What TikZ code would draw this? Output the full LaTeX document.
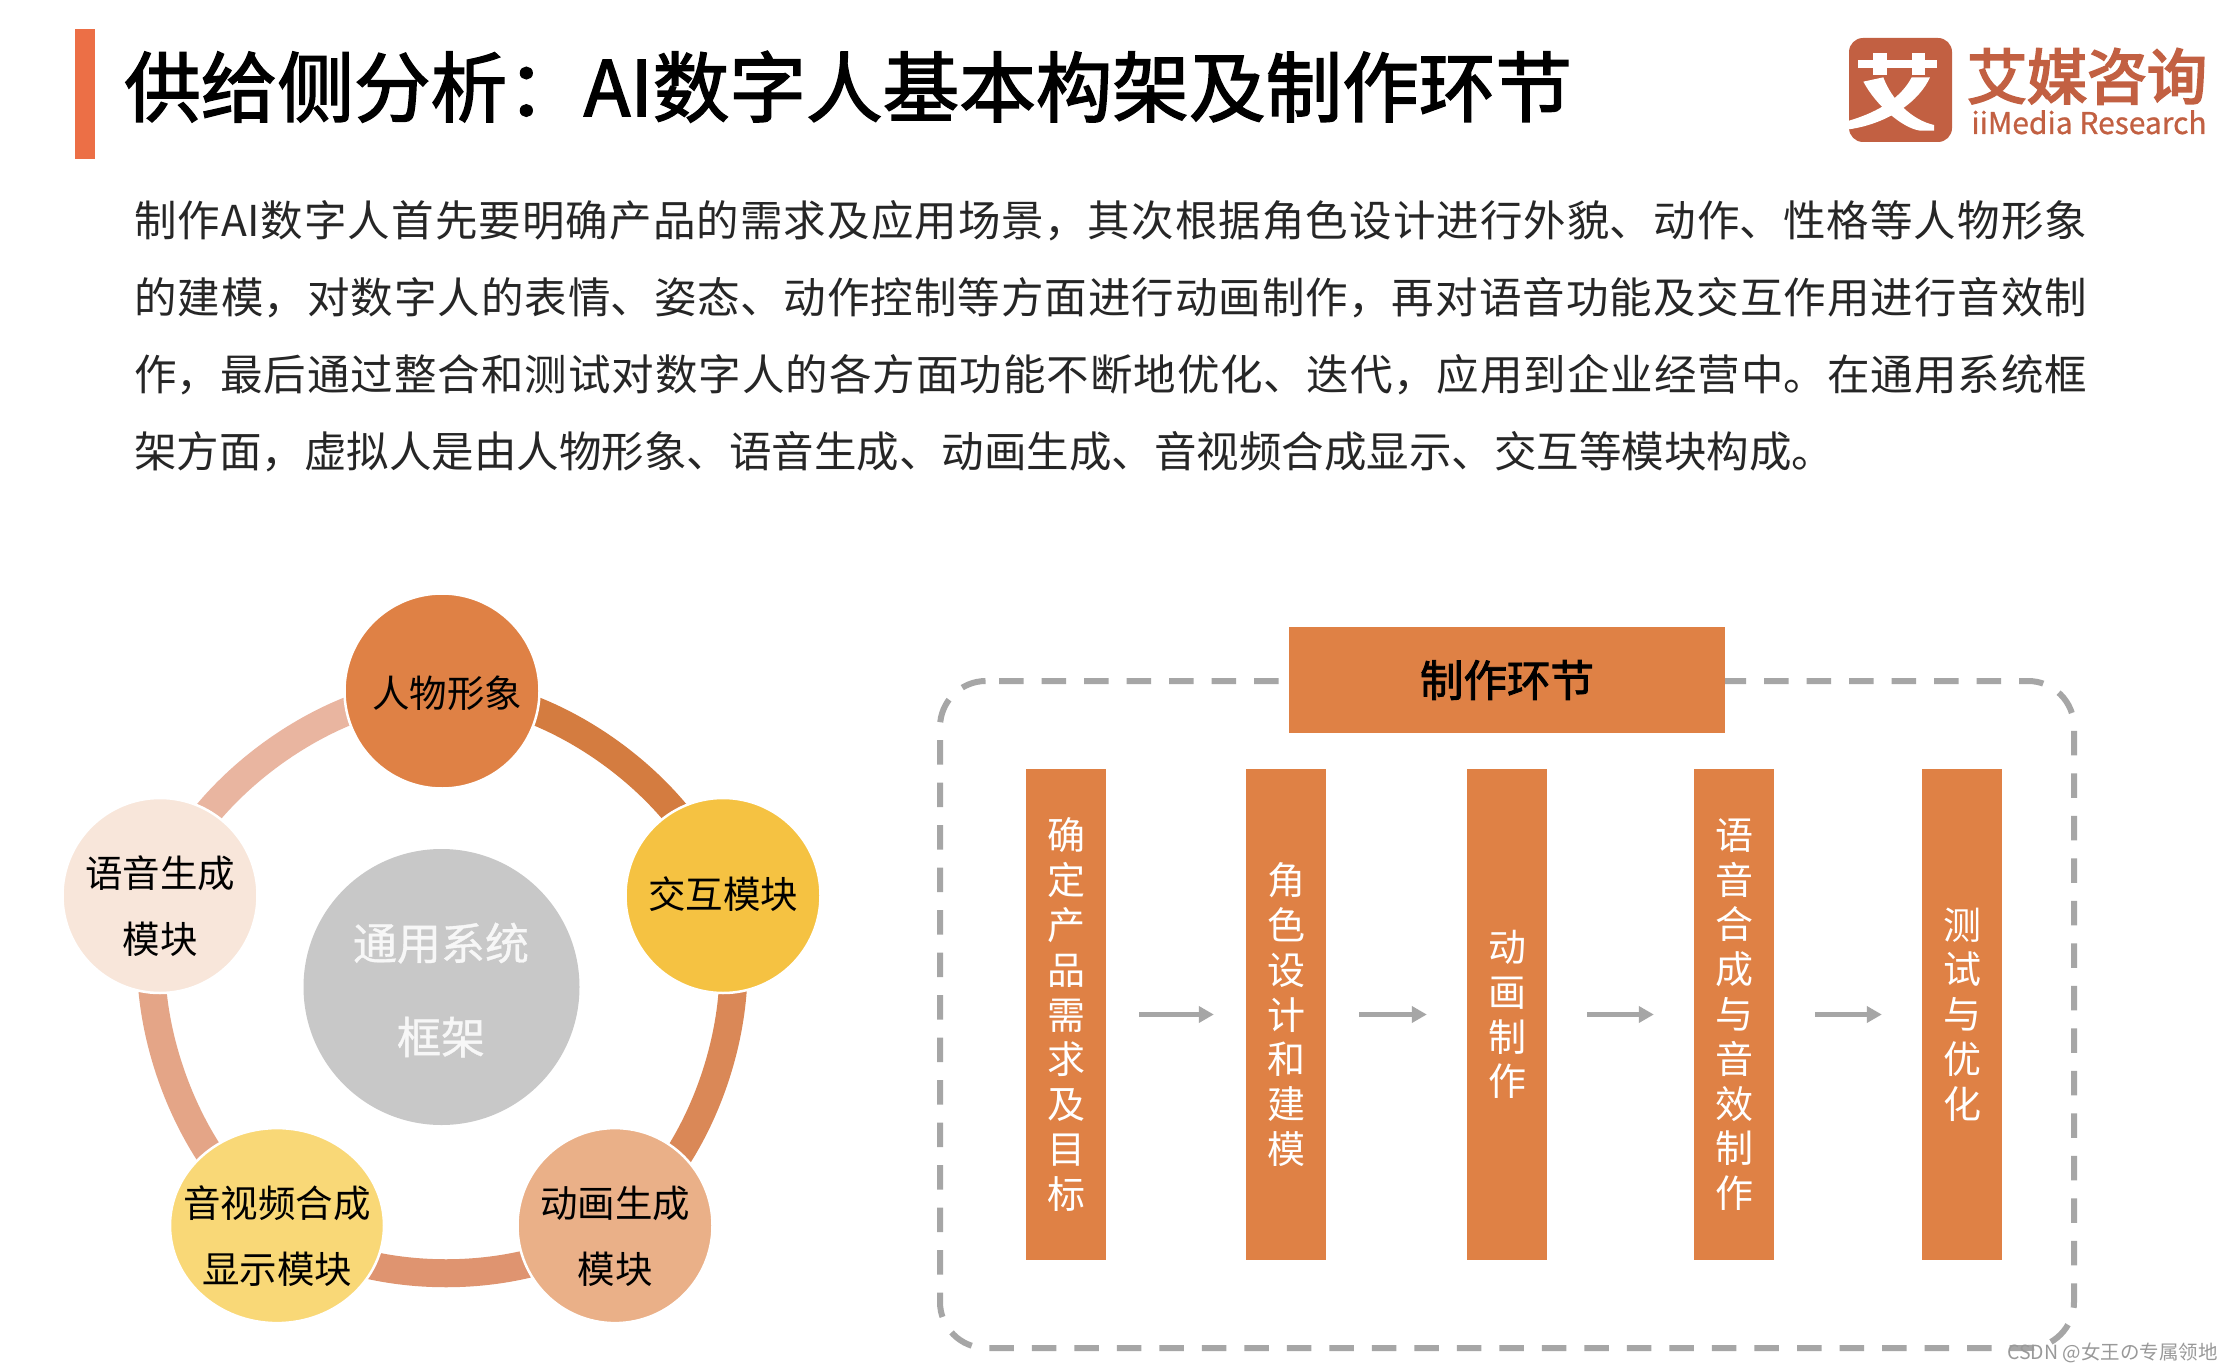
\documentclass[tikz,border=0pt]{standalone}
\usepackage{fontspec}
\setmainfont{Noto Sans CJK SC}
\newfontfamily\medf[FakeBold=2]{Noto Sans CJK SC}
\newfontfamily\heavyf[FakeBold=3.5]{Noto Sans CJK SC}
\newfontfamily\semif[FakeBold=0.8]{Noto Sans CJK SC}
\usetikzlibrary{arrows.meta,shapes.geometric,backgrounds}
\XeTeXlinebreaklocale "zh"
\XeTeXlinebreakskip=0pt plus 3pt
\definecolor{org}{HTML}{DF8145}
\definecolor{logoc}{HTML}{C26042}
\definecolor{dashc}{HTML}{A6A6A6}
\definecolor{titlebar}{HTML}{EC6F46}
\definecolor{ca}{HTML}{D47C40}
\definecolor{cb}{HTML}{DA8857}
\definecolor{cc}{HTML}{DF9470}
\definecolor{cd}{HTML}{E4A587}
\definecolor{ce}{HTML}{E9B5A0}
\newcommand{\fs}[2]{\fontsize{#1pt}{#2pt}\selectfont}
\tikzset{
  disc/.style={circle,draw=white,line width=2.5pt,inner sep=0pt,minimum size=195pt},
  lbl/.style={inner sep=0pt,align=center,text=black,font=\fs{37.5}{66}},
  ring/.style={line width=28pt,line cap=butt,bend left=36,looseness=.82},
  bar/.style={fill=org,draw=none,inner sep=0pt,minimum width=80pt,minimum height=491pt,text=white,align=center,font=\fs{38}{44.8}},
  flow/.style={-{Triangle[length=15pt,width=16pt]},draw=dashc,line width=4.5pt}
}
\begin{document}
\begin{tikzpicture}[x=1pt,y=-1pt]
\useasboundingbox (0,0) rectangle (2232,1372);
\begin{scope}[on background layer]
\fill[white] (0,0) rectangle (2232,1372);
\end{scope}
% title
\node[fill=titlebar,minimum width=20pt,minimum height=130pt,inner sep=0pt] (tbar) at (85,94) {};
\node[anchor=base west,inner sep=0pt,text=black,font=\fs{76.6}{80}\medf] (title) at (124,116) {供给侧分析：AI数字人基本构架及制作环节};
% logo
\node[fill=logoc,minimum width=103pt,minimum height=104pt,rounded corners=14pt,inner sep=0pt] (logo) at (1900.5,90) {};
\begin{scope}
\clip[rounded corners=14pt] (logo.south west) rectangle (logo.north east);
\begin{scope}[shift={(1780,0)},x=.3333pt,y=-.3333pt]
\fill[white] (235,180) rectangle (470,205);
\fill[white] (280,160) rectangle (320,225);
\fill[white] (395,160) rectangle (435,225);
\fill[white] (250,245) -- (310,232) .. controls (335,300) and (395,360) .. (462,375) -- (462,392) -- (420,392) .. controls (370,385) and (290,320) .. (250,245) -- cycle;
\fill[white] (395,232) -- (450,232) .. controls (420,300) and (330,370) .. (207,388) -- (207,362) .. controls (300,335) and (365,290) .. (395,232) -- cycle;
\end{scope}
\end{scope}
\node[anchor=base,inner sep=0pt,text=logoc,font=\fs{60}{60}\heavyf] (logocn) at (2087,99) {艾媒咨询};
\node[anchor=base,inner sep=0pt,text=logoc,font=\fs{30}{32}\semif] (logoen) at (2089,134) {iiMedia Research};
% paragraph
\node[anchor=north west,inner sep=0pt,text width=1953pt,align=justify,text=black!85,font=\fs{42.5}{76.8}] (para) at (134,200.5) {制作AI数字人首先要明确产品的需求及应用场景，其次根据角色设计进行外貌、动作、性格等人物形象\linebreak 的建模，对数字人的表情、姿态、动作控制等方面进行动画制作，再对语音功能及交互作用进行音效制\linebreak 作，最后通过整合和测试对数字人的各方面功能不断地优化、迭代，应用到企业经营中。在通用系统框\linebreak 架方面，虚拟人是由人物形象、语音生成、动画生成、音视频合成显示、交互等模块构成。};
% left: five modules
\node[disc,fill=org] (top) at (442,691) {};
\node[disc,fill={rgb,255:red,245;green,194;blue,66}] (rgt) at (723,895.5) {};
\node[disc,fill={rgb,255:red,234;green,176;blue,136}] (br) at (615,1225.6) {};
\node[ellipse,draw=white,line width=2.5pt,inner sep=0pt,minimum width=214pt,minimum height=195pt,fill={rgb,255:red,249;green,216;blue,119}] (bl) at (277,1225.6) {};
\node[disc,fill={rgb,255:red,248;green,230;blue,218}] (lft) at (160,895.5) {};
\node[circle,fill={rgb,255:red,200;green,200;blue,200},inner sep=0pt,minimum size=276pt] (hub) at (441.5,987) {};
\begin{scope}[on background layer]
\draw[ring,draw=ca] (top.center) to (rgt.center);
\draw[ring,draw=cb] (rgt.center) to (br.center);
\draw[ring,draw=cc] (br.center) to (bl.center);
\draw[ring,draw=cd] (bl.center) to (lft.center);
\draw[ring,draw=ce] (lft.center) to (top.center);
\end{scope}
\node[lbl] (ttop) at (447,693) {人物形象};
\node[lbl] (trgt) at (723,894) {交互模块};
\node[lbl] (tbr) at (615,1236) {动画生成\\模块};
\node[lbl] (tbl) at (277,1236) {音视频合成\\显示模块};
\node[lbl] (tlft) at (160,906) {语音生成\\模块};
\node[inner sep=0pt,align=center,text=white!97!black,font=\fs{44}{94}\semif] (thub) at (441,990) {通用系统\\框架};
% right: production steps
\node[bar] (s1) at (1066,1014.5) {确\\定\\产\\品\\需\\求\\及\\目\\标};
\node[bar] (s2) at (1286,1014.5) {角\\色\\设\\计\\和\\建\\模};
\node[bar] (s3) at (1507,1014.5) {动\\画\\制\\作};
\node[bar] (s4) at (1734,1014.5) {语\\音\\合\\成\\与\\音\\效\\制\\作};
\node[bar] (s5) at (1962,1014.5) {测\\试\\与\\优\\化};
\draw[flow,shorten <=33pt,shorten >=32pt] (s1) -- (s2);
\draw[flow,shorten <=33pt,shorten >=40pt] (s2) -- (s3);
\draw[flow,shorten <=40pt,shorten >=40pt] (s3) -- (s4);
\draw[flow,shorten <=41pt,shorten >=40pt] (s4) -- (s5);
\draw[draw=dashc,line width=6pt,dash pattern=on 24.5pt off 18pt,rounded corners=46pt] (999,681) -- (2074,681) -- (2074,1348) -- (940,1348) -- (940,681) -- (990,681);
\node[fill=org,inner sep=0pt,minimum width=436pt,minimum height=106pt,text=black,font=\fs{43.5}{50}\medf] (head) at (1507,680) {制作环节};
% watermark
\node[anchor=east,inner sep=0pt,text=black!40,font=\fs{19.5}{22}] (wm) at (2218,1353) {CSDN @女王の专属领地};
\end{tikzpicture}
\end{document}
